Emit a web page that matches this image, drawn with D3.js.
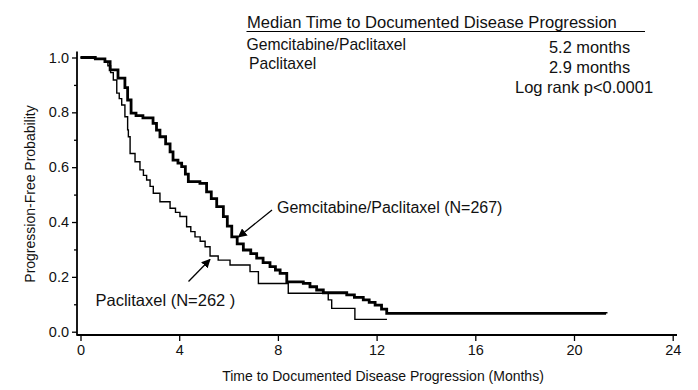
<!DOCTYPE html>
<html>
<head>
<meta charset="utf-8">
<script src="https://cdn.jsdelivr.net/npm/d3@7"></script>
<style>
  body { margin: 0; background: #fff; }
  svg { font-family: "Liberation Sans", Arial, sans-serif; }
</style>
</head>
<body>
<div id="chart"></div>
<script>
// Kaplan-Meier curves (months, probability)
const gemTime = [0, 0.6, 0.99, 1.2, 1.52, 1.8, 1.91, 2.05, 2.25, 2.53, 2.94, 3.08, 3.22, 3.45, 3.63, 3.75, 3.95, 4.1, 4.25, 4.37, 4.84, 5.11, 5.3, 5.52, 5.79, 5.95, 6.13, 6.35, 6.6, 6.9, 7.14, 7.4, 7.68, 7.9, 8.09, 8.36, 9.03, 9.3, 9.57, 9.84, 10.79, 11.1, 11.46, 11.7, 11.94, 12.2, 12.41, 21.3];
const gemProb = [1.0, 0.995, 0.985, 0.955, 0.925, 0.89, 0.845, 0.797, 0.788, 0.78, 0.76, 0.735, 0.711, 0.685, 0.656, 0.626, 0.615, 0.602, 0.575, 0.547, 0.541, 0.51, 0.485, 0.456, 0.42, 0.385, 0.346, 0.32, 0.298, 0.285, 0.268, 0.252, 0.237, 0.225, 0.213, 0.182, 0.176, 0.164, 0.152, 0.142, 0.134, 0.125, 0.116, 0.107, 0.097, 0.082, 0.067, 0.066];

const pacTime = [0, 0.6, 0.99, 1.11, 1.22, 1.33, 1.47, 1.57, 1.67, 1.8, 1.91, 1.94, 2.01, 2.21, 2.41, 2.55, 2.68, 2.82, 2.95, 3.22, 3.63, 3.85, 4.03, 4.3, 4.47, 4.64, 4.85, 5.05, 5.25, 5.58, 6.06, 6.87, 7.21, 8.42, 10.04, 10.18, 11.12, 12.42];
const pacProb = [1.0, 0.995, 0.985, 0.97, 0.945, 0.918, 0.87, 0.85, 0.827, 0.784, 0.736, 0.711, 0.65, 0.62, 0.59, 0.57, 0.553, 0.53, 0.505, 0.474, 0.45, 0.435, 0.42, 0.383, 0.365, 0.346, 0.33, 0.31, 0.276, 0.261, 0.243, 0.219, 0.176, 0.14, 0.116, 0.085, 0.045, 0.045];

const xTicks = [0, 4, 8, 12, 16, 20, 24];
const yTicks = [0, 0.2, 0.4, 0.6, 0.8, 1.0];
const yMinorTicks = [0.1, 0.3, 0.5, 0.7, 0.9];

const legendTitle = "Median Time to Documented Disease Progression";
const legendArms = ["Gemcitabine/Paclitaxel", "Paclitaxel"];
const legendMedians = ["5.2 months", "2.9 months"];
const legendTest = "Log rank p<0.0001";

const width = 698, height = 390;

const svg = d3.select("#chart").append("svg")
    .attr("width", width)
    .attr("height", height);

const x = d3.scaleLinear().domain([0, 24]).range([80.5, 672.7]);
const y = d3.scaleLinear().domain([0, 1]).range([331.7, 57.5]);

const axisX = 77, axisY = 335;

// axes
const yAxis = svg.append("g")
    .attr("transform", `translate(${axisX},0)`)
    .call(d3.axisLeft(y).tickValues(yTicks).tickFormat(d3.format(".1f")).tickSize(5).tickPadding(3));
yAxis.select(".domain").remove();
svg.append("g")
    .attr("transform", `translate(${axisX},0)`)
    .call(d3.axisLeft(y).tickValues(yMinorTicks).tickFormat("").tickSize(3))
    .select(".domain").remove();

const xAxis = svg.append("g")
    .attr("transform", `translate(0,${axisY})`)
    .call(d3.axisBottom(x).tickValues(xTicks).tickSize(6).tickPadding(4));
xAxis.select(".domain").remove();

svg.selectAll(".tick text").attr("font-size", 14.5).attr("fill", "#111");
svg.selectAll(".tick line").attr("stroke", "#000").attr("stroke-width", 1.3);

svg.append("line").attr("x1", axisX).attr("x2", axisX).attr("y1", 51.5).attr("y2", axisY + 0.8)
    .attr("stroke", "#000").attr("stroke-width", 1.8);
svg.append("line").attr("x1", axisX).attr("x2", 677).attr("y1", axisY).attr("y2", axisY)
    .attr("stroke", "#000").attr("stroke-width", 1.8);

// axis titles
svg.append("text")
    .attr("transform", `translate(35,194) rotate(-90)`)
    .attr("text-anchor", "middle")
    .attr("font-size", 14)
    .attr("fill", "#111")
    .text("Progression-Free Probability");

svg.append("text")
    .attr("x", 383).attr("y", 381)
    .attr("text-anchor", "middle")
    .attr("font-size", 14)
    .attr("fill", "#111")
    .text("Time to Documented Disease Progression (Months)");

// curves
const line = d3.line().curve(d3.curveStepAfter);

svg.append("path")
    .datum(pacTime.map((t, i) => [x(t), y(pacProb[i])]))
    .attr("d", line)
    .attr("fill", "none")
    .attr("stroke", "#000")
    .attr("stroke-width", 1.4);

svg.append("path")
    .datum(gemTime.map((t, i) => [x(t), y(gemProb[i])]))
    .attr("d", line)
    .attr("fill", "none")
    .attr("stroke", "#000")
    .attr("stroke-width", 2.8);

// arrows
svg.append("defs").append("marker")
    .attr("id", "head")
    .attr("viewBox", "0 0 10 10")
    .attr("refX", 9).attr("refY", 5)
    .attr("markerWidth", 9).attr("markerHeight", 9)
    .attr("markerUnits", "userSpaceOnUse")
    .attr("orient", "auto")
    .append("path")
    .attr("d", "M0,0 L10,5 L0,10 Z")
    .attr("fill", "#000");

svg.append("line")
    .attr("x1", 272).attr("y1", 210).attr("x2", 238.5).attr("y2", 237)
    .attr("stroke", "#000").attr("stroke-width", 1.3)
    .attr("marker-end", "url(#head)");
svg.append("line")
    .attr("x1", 188.5).attr("y1", 281.5).attr("x2", 210).attr("y2", 259.5)
    .attr("stroke", "#000").attr("stroke-width", 1.3)
    .attr("marker-end", "url(#head)");

svg.append("text")
    .attr("x", 277).attr("y", 213)
    .attr("font-size", 16)
    .attr("fill", "#111")
    .text("Gemcitabine/Paclitaxel (N=267)");
svg.append("text")
    .attr("x", 95.5).attr("y", 306)
    .attr("font-size", 16.5)
    .attr("fill", "#111")
    .text("Paclitaxel (N=262 )");

// legend block
const legend = svg.append("g").attr("fill", "#111");
legend.append("text")
    .attr("x", 247).attr("y", 28)
    .attr("font-size", 16.6)
    .text(legendTitle);
legend.append("line")
    .attr("x1", 246.5).attr("x2", 645).attr("y1", 31.5).attr("y2", 31.5)
    .attr("stroke", "#000").attr("stroke-width", 1.2);
legend.selectAll(".arm")
    .data(legendArms)
    .enter().append("text")
    .attr("x", (d, i) => i === 0 ? 246.5 : 249)
    .attr("y", (d, i) => 49.5 + i * 19)
    .attr("font-size", 15.7)
    .text(d => d);
legend.selectAll(".med")
    .data(legendMedians)
    .enter().append("text")
    .attr("x", 549)
    .attr("y", (d, i) => 53 + i * 20)
    .attr("font-size", 16.4)
    .text(d => d);
legend.append("text")
    .attr("x", 515).attr("y", 93)
    .attr("font-size", 16.5)
    .text(legendTest);
</script>
</body>
</html>
